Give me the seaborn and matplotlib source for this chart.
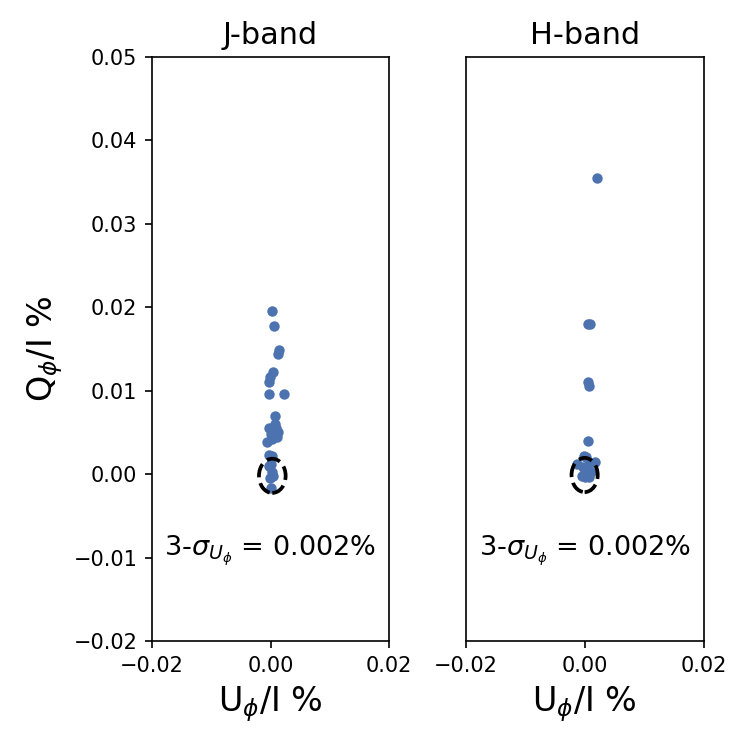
import numpy as np
import pandas as pd
import matplotlib
matplotlib.use("Agg")
import matplotlib.pyplot as plt
import seaborn as sns
from matplotlib.patches import Ellipse

# ----------------------------------------------------
# data
# ----------------------------------------------------
j_u = [0.0003, 0.0006, 0.0015, 0.0012, 0.0023, 0.0004, -0.0001, -0.0003, -0.0003,
       0.0008, 0.0008, 0.0010, 0.0012, 0.0011, 0.0006, 0.0000, -0.0002, 0.0003,
       -0.0006, -0.0002, 0.0003, 0.0000, -0.0002, 0.0002, 0.0005, -0.0001, 0.0001]
j_q = [0.0196, 0.0177, 0.0149, 0.0144, 0.0096, 0.0122, 0.0116, 0.0110, 0.0096,
       0.0070, 0.0060, 0.0055, 0.0050, 0.0045, 0.0047, 0.0048, 0.0055, 0.0042,
       0.0038, 0.0023, 0.0022, 0.0012, 0.0010, 0.0003, -0.0002, -0.0005, -0.0016]

h_u = [0.0020, 0.0006, 0.0009, 0.0006, 0.0007, 0.0005, -0.0001, 0.0003, -0.0012,
       0.0018, 0.0008, -0.0002, 0.0004, 0.0010, -0.0004, 0.0001, 0.0007]
h_q = [0.0355, 0.0180, 0.0180, 0.0111, 0.0106, 0.0040, 0.0022, 0.0020, 0.0012,
       0.0015, 0.0012, 0.0008, 0.0005, 0.0003, -0.0002, -0.0003, -0.0003]

bands = ['J-band', 'H-band']
sigma3 = [0.002, 0.002]
# noise ellipse: centre (U, Q) and full width / height
ell_center = [(0.0003, -0.0002), (0.0000, -0.0001)]
ell_width = [0.0045, 0.0044]
ell_height = [0.0041, 0.0041]

df_j = pd.DataFrame({'U': j_u, 'Q': j_q})
df_h = pd.DataFrame({'U': h_u, 'Q': h_q})

# ----------------------------------------------------
# figure (5x5 in at 150 dpi -> 750x750 px)
# ----------------------------------------------------
fig = plt.figure(figsize=(5, 5), dpi=150)
ax1 = fig.add_axes([0.2027, 0.1453, 0.316, 0.7787])
ax2 = fig.add_axes([0.621, 0.1453, 0.317, 0.7787])

for i, (ax, d) in enumerate(zip([ax1, ax2], [df_j, df_h])):
    sns.scatterplot(data=d, x='U', y='Q', ax=ax, color='#4C72B0',
                    s=25, linewidth=0, zorder=2)
    ax.add_patch(Ellipse(ell_center[i], ell_width[i], ell_height[i], fill=False,
                         edgecolor='black', linestyle='--', linewidth=1.8, zorder=3))
    ax.set_xlim(-0.02, 0.02)
    ax.set_ylim(-0.02, 0.05)
    ax.set_xticks([-0.02, 0.0, 0.02])
    ax.set_xticklabels(['−0.02', '0.00', '0.02'])
    ax.set_title(bands[i], fontsize=14.5)
    ax.set_xlabel(r'U$_\phi$/I %', fontsize=16)
    ax.text(0, -0.0092, r'3-$\sigma_{U_\phi}$ = %.3f%%' % sigma3[i], fontsize=13,
            ha='center', va='center')

ax1.set_ylabel(r'Q$_\phi$/I %', fontsize=16)
ax1.set_yticks([-0.02, -0.01, 0.0, 0.01, 0.02, 0.03, 0.04, 0.05])
ax1.set_yticklabels(['−0.02', '−0.01', '0.00', '0.01', '0.02', '0.03', '0.04', '0.05'])
ax2.set_yticks([])
ax2.set_ylabel('')

plt.savefig("out.png", dpi=150)
plt.close()
